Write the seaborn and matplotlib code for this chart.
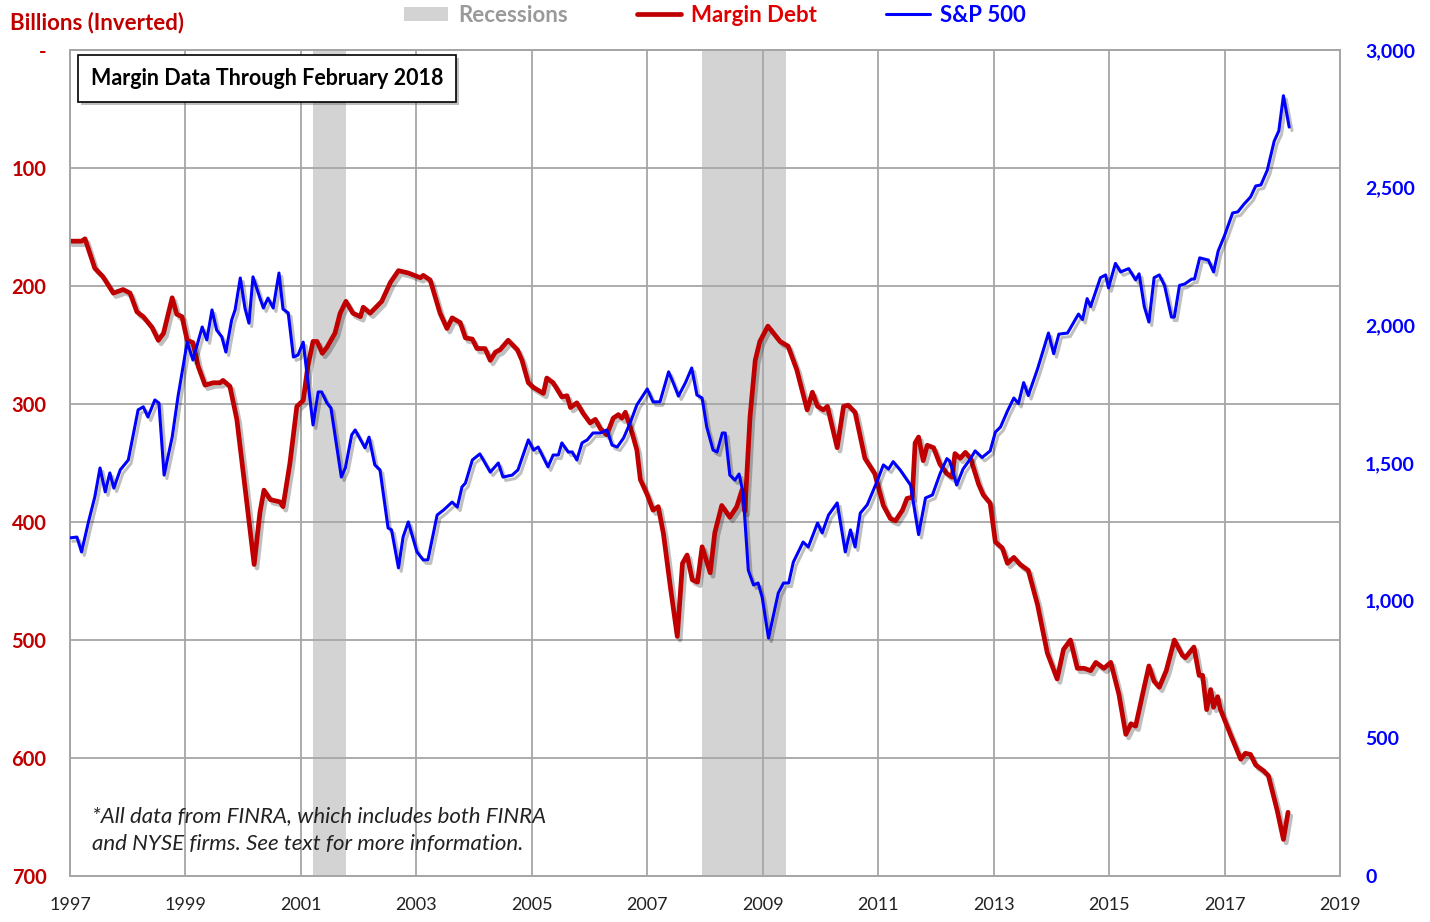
import numpy as np
import pandas as pd
import matplotlib
matplotlib.use("Agg")
import matplotlib.pyplot as plt
import matplotlib.patheffects as pe
from matplotlib.patches import Patch
from matplotlib.lines import Line2D
import seaborn as sns

# Margin debt (billions, plotted on inverted left axis)
md_year = [1997.0, 1997.2, 1997.26, 1997.43, 1997.57, 1997.75, 1997.92, 1998.04, 1998.16, 1998.27,
           1998.42, 1998.53, 1998.62, 1998.77, 1998.85, 1998.94, 1999.03, 1999.13, 1999.22, 1999.34,
           1999.48, 1999.6, 1999.65, 1999.77, 1999.89, 2000.03, 2000.19, 2000.29, 2000.36, 2000.47,
           2000.64, 2000.69, 2000.81, 2000.93, 2001.04, 2001.12, 2001.21, 2001.28, 2001.37, 2001.45,
           2001.59, 2001.68, 2001.78, 2001.9, 2002.03, 2002.08, 2002.2, 2002.4, 2002.55, 2002.69,
           2002.86, 2003.07, 2003.12, 2003.24, 2003.41, 2003.53, 2003.62, 2003.76, 2003.85, 2003.97,
           2004.05, 2004.19, 2004.28, 2004.37, 2004.45, 2004.59, 2004.75, 2004.83, 2004.94, 2005.03,
           2005.2, 2005.26, 2005.37, 2005.52, 2005.61, 2005.67, 2005.78, 2005.89, 2006.01, 2006.1,
           2006.19, 2006.3, 2006.41, 2006.5, 2006.56, 2006.62, 2006.74, 2006.82, 2006.88, 2007.0,
           2007.1, 2007.19, 2007.28, 2007.4, 2007.52, 2007.61, 2007.69, 2007.78, 2007.87, 2007.95,
           2008.09, 2008.17, 2008.29, 2008.43, 2008.55, 2008.64, 2008.69, 2008.78, 2008.87, 2008.95,
           2009.09, 2009.3, 2009.44, 2009.59, 2009.77, 2009.86, 2009.95, 2010.05, 2010.12, 2010.29,
           2010.4, 2010.48, 2010.6, 2010.77, 2010.94, 2011.09, 2011.21, 2011.3, 2011.42, 2011.5,
           2011.59, 2011.64, 2011.7, 2011.78, 2011.85, 2011.96, 2012.07, 2012.19, 2012.28, 2012.33,
           2012.42, 2012.51, 2012.6, 2012.74, 2012.82, 2012.94, 2013.03, 2013.15, 2013.24, 2013.35,
           2013.46, 2013.6, 2013.76, 2013.93, 2014.1, 2014.21, 2014.33, 2014.45, 2014.57, 2014.68,
           2014.77, 2014.91, 2015.03, 2015.17, 2015.29, 2015.38, 2015.46, 2015.58, 2015.69, 2015.78,
           2015.87, 2015.99, 2016.13, 2016.27, 2016.32, 2016.47, 2016.56, 2016.62, 2016.69, 2016.76,
           2016.81, 2016.88, 2016.93, 2017.11, 2017.28, 2017.36, 2017.45, 2017.54, 2017.68, 2017.76,
           2017.91, 2018.02, 2018.1]
md_value = [162, 162, 160, 185, 192, 206, 203, 206, 222, 226,
            235, 246, 240, 210, 224, 226, 246, 248, 268, 284,
            282, 282, 280, 285, 313, 370, 436, 392, 373, 381,
            383, 387, 350, 302, 297, 268, 247, 247, 257, 252,
            240, 223, 213, 223, 226, 218, 223, 213, 197, 187,
            189, 193, 191, 195, 223, 236, 227, 231, 244, 245,
            253, 253, 263, 256, 254, 246, 254, 263, 282, 286,
            291, 278, 282, 294, 293, 303, 299, 308, 316, 313,
            321, 326, 312, 309, 312, 307, 325, 339, 364, 377,
            390, 387, 410, 455, 497, 435, 428, 449, 451, 421,
            443, 409, 386, 396, 387, 373, 391, 311, 263, 247,
            234, 247, 251, 271, 305, 290, 302, 305, 302, 337,
            302, 301, 307, 346, 359, 386, 397, 399, 390, 380,
            379, 333, 328, 348, 335, 337, 351, 359, 362, 342,
            346, 341, 346, 368, 377, 384, 417, 422, 435, 430,
            436, 441, 470, 511, 533, 508, 500, 524, 524, 526,
            519, 524, 519, 546, 580, 571, 573, 546, 522, 535,
            540, 526, 500, 513, 515, 506, 530, 530, 559, 542,
            557, 548, 559, 581, 601, 596, 597, 606, 611, 615,
            644, 669, 646]

# S&P 500 index (right axis)
sp_year = [1997.0, 1997.12, 1997.2, 1997.32, 1997.43, 1997.52, 1997.61, 1997.69, 1997.76, 1997.87,
           1998.01, 1998.18, 1998.27, 1998.35, 1998.47, 1998.54, 1998.63, 1998.77, 1998.87, 1999.03,
           1999.13, 1999.29, 1999.37, 1999.46, 1999.54, 1999.63, 1999.7, 1999.8, 1999.86, 1999.95,
           2000.03, 2000.1, 2000.17, 2000.29, 2000.35, 2000.43, 2000.52, 2000.62, 2000.69, 2000.78,
           2000.87, 2000.95, 2001.04, 2001.21, 2001.3, 2001.36, 2001.45, 2001.52, 2001.7, 2001.77,
           2001.88, 2001.94, 2002.11, 2002.18, 2002.28, 2002.37, 2002.51, 2002.57, 2002.69, 2002.77,
           2002.86, 2003.01, 2003.12, 2003.2, 2003.36, 2003.47, 2003.62, 2003.71, 2003.79, 2003.85,
           2003.97, 2004.1, 2004.28, 2004.42, 2004.5, 2004.66, 2004.76, 2004.94, 2005.03, 2005.11,
           2005.28, 2005.37, 2005.46, 2005.52, 2005.63, 2005.7, 2005.78, 2005.87, 2005.96, 2006.06,
           2006.19, 2006.3, 2006.39, 2006.48, 2006.59, 2006.71, 2006.82, 2007.0, 2007.1, 2007.22,
           2007.37, 2007.45, 2007.54, 2007.66, 2007.77, 2007.86, 2007.95, 2008.03, 2008.14, 2008.21,
           2008.3, 2008.35, 2008.43, 2008.52, 2008.59, 2008.66, 2008.75, 2008.84, 2008.92, 2008.99,
           2009.1, 2009.18, 2009.27, 2009.36, 2009.45, 2009.53, 2009.7, 2009.79, 2009.95, 2010.03,
           2010.14, 2010.29, 2010.43, 2010.52, 2010.6, 2010.69, 2010.81, 2010.99, 2011.09, 2011.18,
           2011.26, 2011.38, 2011.56, 2011.7, 2011.82, 2011.94, 2012.07, 2012.19, 2012.24, 2012.36,
           2012.47, 2012.6, 2012.68, 2012.8, 2012.94, 2013.03, 2013.12, 2013.24, 2013.35, 2013.43,
           2013.52, 2013.6, 2013.76, 2013.95, 2014.04, 2014.13, 2014.28, 2014.47, 2014.54, 2014.62,
           2014.68, 2014.85, 2014.94, 2014.99, 2015.11, 2015.2, 2015.34, 2015.46, 2015.52, 2015.61,
           2015.69, 2015.78, 2015.87, 2015.96, 2016.08, 2016.13, 2016.22, 2016.31, 2016.43, 2016.48,
           2016.57, 2016.72, 2016.81, 2016.89, 2017.0, 2017.14, 2017.23, 2017.34, 2017.45, 2017.54,
           2017.63, 2017.74, 2017.86, 2017.94, 2018.02, 2018.12]
sp_value = [1228, 1231, 1177, 1286, 1377, 1482, 1395, 1464, 1409, 1475,
            1511, 1693, 1704, 1667, 1729, 1718, 1456, 1594, 1740, 1939,
            1874, 1994, 1947, 2056, 1983, 1958, 1903, 2019, 2056, 2172,
            2063, 2008, 2176, 2099, 2063, 2099, 2063, 2190, 2059, 2045,
            1885, 1892, 1939, 1638, 1758, 1758, 1718, 1700, 1449, 1482,
            1602, 1620, 1555, 1594, 1493, 1475, 1264, 1257, 1119, 1231,
            1286, 1177, 1148, 1148, 1311, 1329, 1358, 1340, 1413, 1427,
            1511, 1533, 1467, 1500, 1449, 1456, 1475, 1584, 1547, 1558,
            1486, 1529, 1529, 1573, 1540, 1540, 1511, 1573, 1584, 1609,
            1609, 1620, 1565, 1558, 1591, 1649, 1711, 1769, 1722, 1722,
            1831, 1791, 1743, 1791, 1845, 1747, 1736, 1631, 1547, 1540,
            1609, 1609, 1456, 1438, 1460, 1391, 1111, 1057, 1064, 1013,
            864, 941, 1028, 1064, 1064, 1140, 1213, 1195, 1282, 1246,
            1311, 1355, 1177, 1257, 1195, 1318, 1348, 1438, 1493, 1478,
            1505, 1475, 1420, 1240, 1373, 1384, 1460, 1516, 1507, 1420,
            1478, 1516, 1544, 1520, 1544, 1612, 1631, 1689, 1736, 1716,
            1792, 1745, 1841, 1972, 1897, 1968, 1972, 2041, 2021, 2097,
            2068, 2173, 2183, 2136, 2225, 2194, 2206, 2165, 2187, 2068,
            2012, 2173, 2183, 2145, 2030, 2030, 2145, 2150, 2168, 2168,
            2245, 2237, 2194, 2270, 2326, 2408, 2412, 2441, 2466, 2506,
            2510, 2563, 2669, 2706, 2834, 2720]

recessions = [(2001.21, 2001.78), (2007.95, 2009.4)]
left_ticks = [0, 100, 200, 300, 400, 500, 600, 700]
left_labels = ["-", "100", "200", "300", "400", "500", "600", "700"]
right_ticks = [0, 500, 1000, 1500, 2000, 2500, 3000]
right_labels = ["0", "500", "1,000", "1,500", "2,000", "2,500", "3,000"]
year_ticks = list(range(1997, 2020, 2))

RED = "#C00000"
BLUE = "#0000FF"
GRID = "#A6A6A6"

sns.set_style("white")
plt.rcParams["font.family"] = ["Lato", "DejaVu Sans"]

md_df = pd.DataFrame({"year": md_year, "debt": md_value})
sp_df = pd.DataFrame({"year": sp_year, "spx": sp_value})

fig = plt.figure(figsize=(14.3, 9.22), dpi=100)
ax = fig.add_axes([70 / 1430, 46 / 922, 1270 / 1430, 826 / 922])
ax2 = ax.twinx()

# recession bands
for start, end in recessions:
    ax.axvspan(start, end, color="#D3D3D3", lw=0, zorder=0)

shadow = [pe.SimpleLineShadow(offset=(2, -2.5), shadow_color="black", alpha=0.25), pe.Normal()]

sns.lineplot(data=md_df, x="year", y="debt", ax=ax, color=RED, linewidth=3.4,
             path_effects=shadow, zorder=3)
sns.lineplot(data=sp_df, x="year", y="spx", ax=ax2, color=BLUE, linewidth=2.2,
             path_effects=shadow, zorder=3)

ax.set_xlim(1997, 2019)
ax.set_ylim(700, 0)
ax2.set_ylim(0, 3000)
ax.set_xticks(year_ticks)
ax.set_xticklabels([str(y) for y in year_ticks], fontsize=13, color="#222222")
ax.set_yticks(left_ticks)
ax.set_yticklabels(left_labels, fontsize=14.5, color=RED, fontweight="bold")
ax2.set_yticks(right_ticks)
ax2.set_yticklabels(right_labels, fontsize=14, color=BLUE, fontweight="bold")
ax.tick_params(axis="x", length=0, pad=15)
ax.tick_params(axis="y", length=0, pad=17)
ax2.tick_params(axis="y", length=0, pad=18)
for lbl in ax2.get_yticklabels():
    lbl.set_horizontalalignment("left")

ax.set_xlabel("")
ax.set_ylabel("")
ax2.set_ylabel("")
ax.grid(True, color=GRID, lw=1.3)
ax.set_axisbelow(True)
for a in (ax, ax2):
    for s in a.spines.values():
        s.set_color(GRID)
        s.set_linewidth(1.3)

fig.text(10 / 1430, 1 - 23 / 922, "Billions (Inverted)", color=RED, fontsize=16,
         fontweight="bold", va="center", ha="left")

# title box
box = ax.text(0.0165, 0.965, "Margin Data Through February 2018", transform=ax.transAxes,
              fontsize=15.5, fontweight="bold", color="black", va="center", ha="left",
              bbox=dict(boxstyle="square,pad=0.6", fc="white", ec="black", lw=1.2), zorder=6)
box.get_bbox_patch().set_path_effects([pe.SimplePatchShadow(offset=(2, -2), alpha=0.35), pe.Normal()])

ax.text(0.017, 0.056, "*All data from FINRA, which includes both FINRA\nand NYSE firms. See text for more information.",
        transform=ax.transAxes, fontsize=16, style="italic", color="#222222",
        va="center", ha="left", linespacing=1.5, zorder=6)

handles = [Patch(facecolor="#D3D3D3", edgecolor="none"),
           Line2D([], [], color=RED, lw=3.4),
           Line2D([], [], color=BLUE, lw=2.2)]
leg = fig.legend(handles, ["Recessions", "Margin Debt", "S&P 500"], loc="center",
                 bbox_to_anchor=(0.5, 1 - 15 / 922), ncol=3, frameon=False,
                 prop={"size": 16, "weight": "bold"}, handlelength=2.0, handleheight=0.6,
                 columnspacing=3.1, handletextpad=0.45)
for txt, col in zip(leg.get_texts(), ["#9A9A9A", "#E00000", BLUE]):
    txt.set_color(col)

fig.savefig("out.png", dpi=100)
